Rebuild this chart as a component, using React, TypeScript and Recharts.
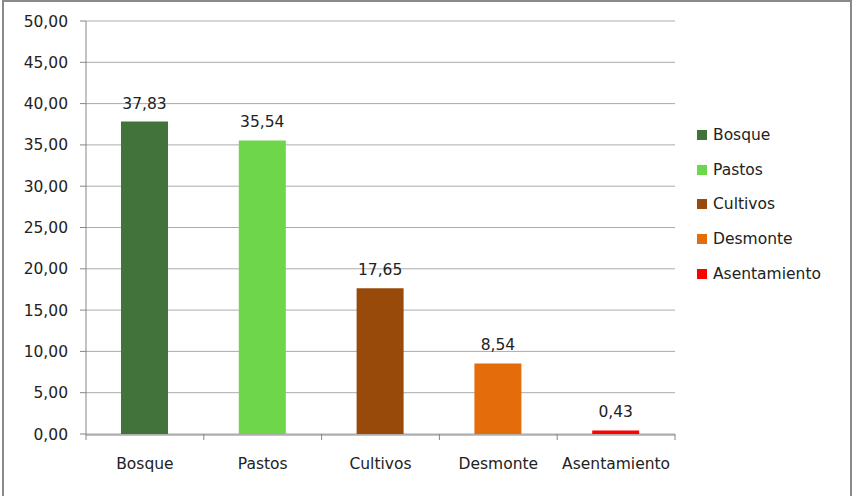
import React from 'react';
import { BarChart, Bar, XAxis, YAxis, CartesianGrid, Cell, LabelList, Legend } from 'recharts';

const categories = ['Bosque', 'Pastos', 'Cultivos', 'Desmonte', 'Asentamiento'];
const values = [37.83, 35.54, 17.65, 8.54, 0.43];
const colors = ['#41733a', '#6ed64b', '#984a0a', '#e46c0a', '#ff0000'];
const yTicks = [0, 5, 10, 15, 20, 25, 30, 35, 40, 45, 50];

const data = categories.map((name, i) => ({ name, value: values[i], pos: i + 0.5 }));
const boundaryTicks = [...categories.map((_, i) => i), categories.length];

const FONT = '"DejaVu Sans", Verdana, sans-serif';
const FS = 15.5;
const fmt = (v: number) => v.toFixed(2).replace('.', ',');

const renderLegend = () => (
  <div style={{ fontFamily: FONT, fontSize: FS, color: '#222' }}>
    {categories.map((c, i) => (
      <div key={c} style={{ display: 'flex', alignItems: 'center', height: 34.8 }}>
        <span style={{ display: 'inline-block', width: 10, height: 10, background: colors[i], marginRight: 6 }} />
        <span>{c}</span>
      </div>
    ))}
  </div>
);

export default function App() {
  return (
    <div style={{ position: 'absolute', left: 0, top: 0, width: 855, height: 496, background: '#fff', overflow: 'hidden' }}>
      <div style={{ position: 'absolute', left: 2, top: 0, width: 846, height: 520, borderLeft: '2px solid #8a8a8a', borderRight: '2px solid #8a8a8a', borderTop: '2px solid #8a8a8a' }} />
      <div style={{ position: 'absolute', left: 0, top: 0 }}>
        <BarChart width={855} height={496} data={data} margin={{ top: 21, right: 180, bottom: 32, left: 0 }} style={{ fontFamily: FONT }}>
          <CartesianGrid xAxisId="cat" vertical={false} stroke="#ababab" />
          <XAxis xAxisId="cat" dataKey="name" interval={0} tickLine={false} tickSize={0} tickMargin={23} height={29} axisLine={{ stroke: '#868686' }} tick={{ fill: '#222', fontSize: FS, fontFamily: FONT }} />
          <XAxis xAxisId="aaa" dataKey="pos" type="number" domain={[0, categories.length]} allowDataOverflow ticks={boundaryTicks} interval={0} tickFormatter={() => ''} tickSize={6} axisLine={false} tickLine={{ stroke: '#868686' }} height={1} />
          <YAxis width={86} domain={[0, 50]} ticks={yTicks} interval={0} tickFormatter={fmt} tickSize={6} tickMargin={12} axisLine={{ stroke: '#868686' }} tickLine={{ stroke: '#868686' }} tick={{ fill: '#222', fontSize: FS, fontFamily: FONT }} />
          <Legend content={renderLegend} layout="vertical" align="center" verticalAlign="middle" wrapperStyle={{ left: 697, top: 117.5, width: 150 }} />
          <Bar xAxisId="cat" dataKey="value" barSize={47} isAnimationActive={false}>
            {data.map((d, i) => (
              <Cell key={d.name} fill={colors[i]} />
            ))}
            <LabelList dataKey="value" position="top" offset={13} formatter={(v: any) => fmt(Number(v))} style={{ fill: '#222', fontSize: FS, fontFamily: FONT }} />
          </Bar>
        </BarChart>
      </div>
    </div>
  );
}
